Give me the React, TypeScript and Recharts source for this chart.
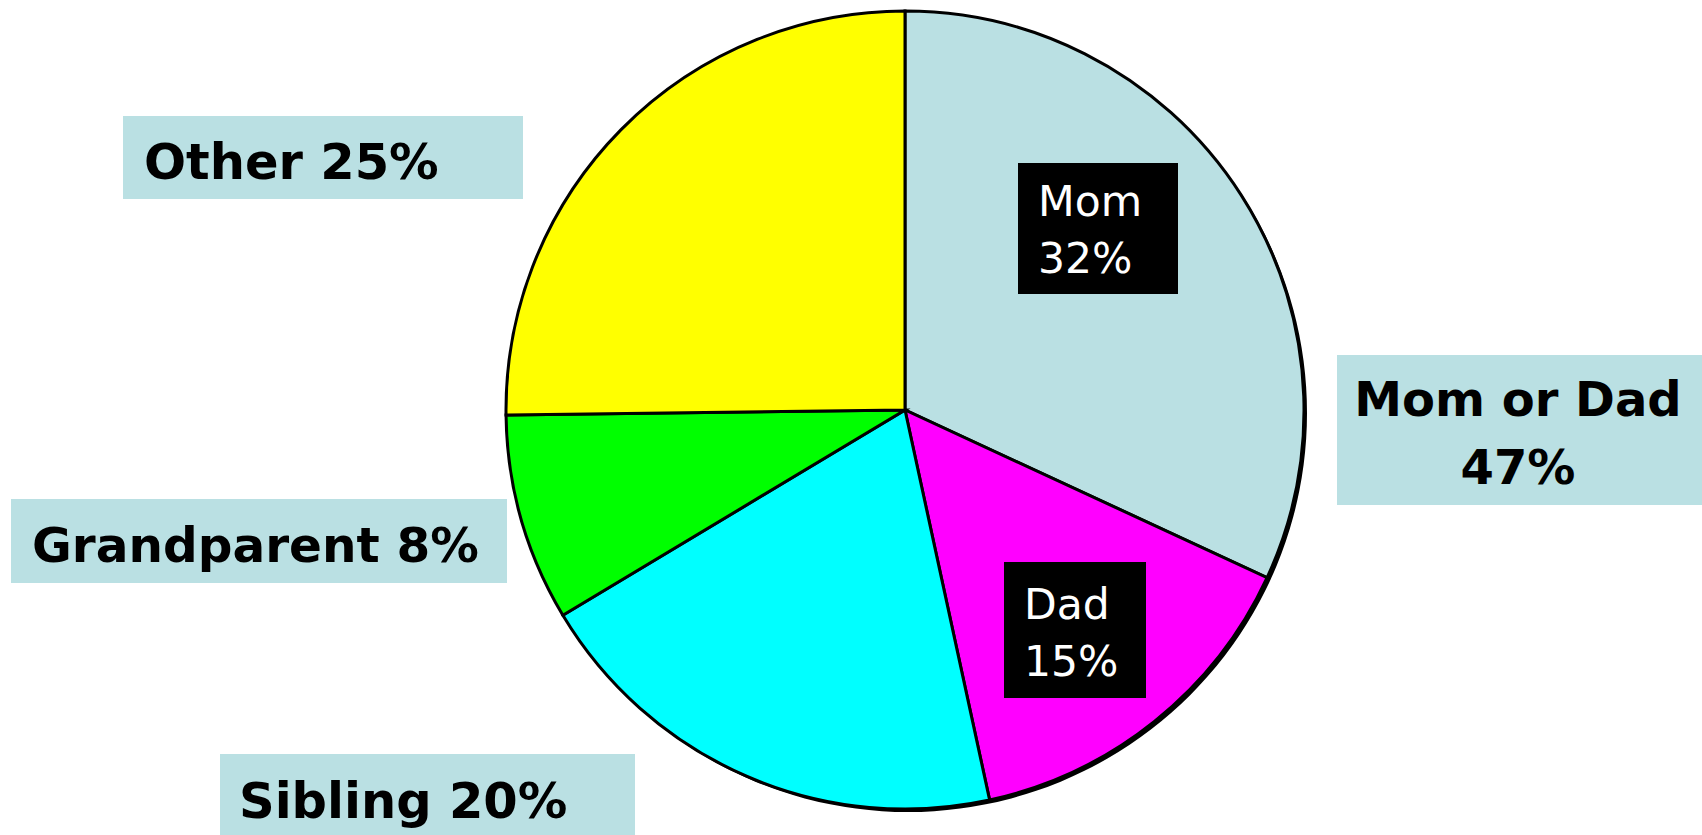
import { PieChart, Pie, Cell } from 'recharts'

const CATEGORIES = ['Mom', 'Dad', 'Sibling', 'Grandparent', 'Other']
const SHARES = [31.9, 14.7, 19.8, 8.4, 25.2]
const SLICE_COLORS = ['#BAE0E3', '#FF00FF', '#00FFFF', '#00FF00', '#FFFF00']
const GROUP_LABEL = 'Mom or Dad'

const W = 1702
const H = 835
const CX = 900
const CY = 405
const R = 399

const BOX = '#BAE0E3'
const BOLD_FONT = '"DejaVu Sans", Verdana, sans-serif'

const slices = CATEGORIES.map((name, i) => ({ name, value: SHARES[i] }))
const shadow = [{ name: 'shadow', value: 1 }]
const pct = (name: string) => `${Math.round(SHARES[CATEGORIES.indexOf(name)])}%`

export default function App() {
  return (
    <div style={{ position: 'absolute', left: 0, top: 0, width: W, height: H, background: '#fff', overflow: 'hidden' }}>
      <PieChart width={W} height={H}>
        {/* soft drop shadow on the lower right rim */}
        <Pie
          data={shadow}
          dataKey="value"
          cx={CX + 3}
          cy={CY + 3}
          outerRadius={R}
          stroke="none"
          fill="#000"
          isAnimationActive={false}
        />
        <Pie
          data={slices}
          dataKey="value"
          cx={CX}
          cy={CY}
          outerRadius={R}
          startAngle={90}
          endAngle={-270}
          stroke="#000"
          strokeWidth={3}
          isAnimationActive={false}
        >
          {slices.map((_, i) => (
            <Cell key={i} fill={SLICE_COLORS[i]} />
          ))}
        </Pie>
      </PieChart>

      {/* callout boxes outside the pie */}
      <OuterBox left={123} top={116} width={400} height={83} textLeft={21} shift={5} size={49.5}>
        Other {pct('Other')}
      </OuterBox>
      <OuterBox left={11} top={499} width={496} height={84} textLeft={21} shift={4} size={48.5}>
        Grandparent {pct('Grandparent')}
      </OuterBox>
      <OuterBox left={220} top={754} width={415} height={90} textLeft={19} shift={2} size={49.5}>
        Sibling {pct('Sibling')}
      </OuterBox>
      <div
        style={{
          position: 'absolute',
          left: 1337,
          top: 355,
          width: 380,
          height: 150,
          background: BOX,
          fontFamily: BOLD_FONT,
          fontWeight: 'bold',
          fontSize: 48,
          lineHeight: '68px',
          color: '#000',
          boxSizing: 'border-box',
          paddingTop: 10,
          paddingLeft: 16,
        }}
      >
        <div style={{ width: 330, textAlign: 'center' }}>{GROUP_LABEL}</div>
        <div style={{ width: 330, textAlign: 'center' }}>{Math.round(SHARES[0] + SHARES[1])}%</div>
      </div>

      {/* black tags inside the pie */}
      <InnerTag left={1018} top={163} width={160} height={131} shift={10}>
        {['Mom', pct('Mom')]}
      </InnerTag>
      <InnerTag left={1004} top={562} width={142} height={136} shift={14}>
        {['Dad', pct('Dad')]}
      </InnerTag>
    </div>
  )
}

function OuterBox({
  left,
  top,
  width,
  height,
  textLeft,
  shift,
  size,
  children,
}: {
  left: number
  top: number
  width: number
  height: number
  textLeft: number
  shift: number
  size: number
  children: React.ReactNode
}) {
  return (
    <div
      style={{
        position: 'absolute',
        left,
        top,
        width,
        height,
        background: BOX,
        fontFamily: BOLD_FONT,
        fontWeight: 'bold',
        fontSize: size,
        lineHeight: `${height}px`,
        paddingLeft: textLeft,
        paddingTop: shift,
        boxSizing: 'border-box',
        color: '#000',
        whiteSpace: 'nowrap',
      }}
    >
      {children}
    </div>
  )
}

function InnerTag({
  left,
  top,
  width,
  height,
  shift,
  children,
}: {
  left: number
  top: number
  width: number
  height: number
  shift: number
  children: string[]
}) {
  return (
    <div
      style={{
        position: 'absolute',
        left,
        top,
        width,
        height,
        background: '#000',
        color: '#fff',
        fontFamily: '"DejaVu Sans", Tahoma, sans-serif',
        fontSize: 42.5,
        lineHeight: '57px',
        paddingLeft: 20,
        paddingTop: shift,
        boxSizing: 'border-box',
      }}
    >
      {children.map((t) => (
        <div key={t}>{t}</div>
      ))}
    </div>
  )
}
